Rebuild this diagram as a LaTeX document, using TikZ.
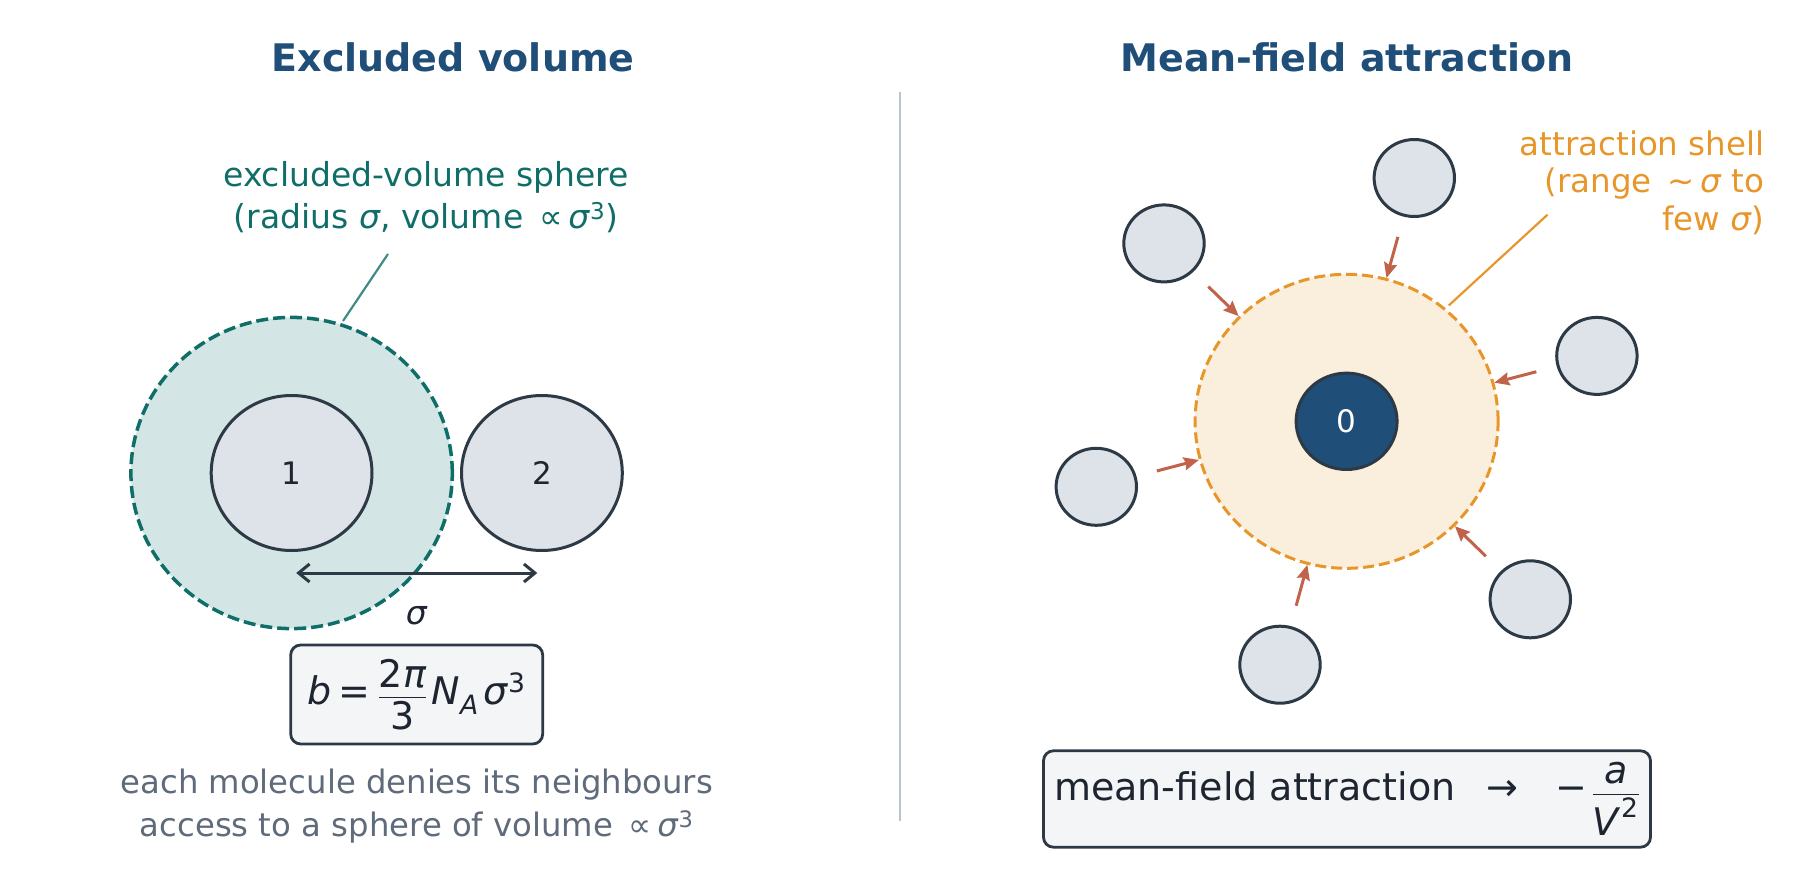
\documentclass[tikz,border=0pt]{standalone}
\usepackage{fontspec}
\setmainfont{DejaVu Sans}
\usepackage{amsmath}
\usetikzlibrary{shapes.geometric,arrows.meta,calc}
\definecolor{titleblue}{HTML}{1F4E79}
\definecolor{ink}{HTML}{2D3A46}
\definecolor{txt}{HTML}{1E2530}
\definecolor{pfill}{HTML}{DDE3E8}
\definecolor{tealc}{HTML}{0F6E68}
\definecolor{tealf}{HTML}{D3E5E5}
\definecolor{orng}{HTML}{E8962A}
\definecolor{shellf}{HTML}{FAEEDD}
\definecolor{rust}{HTML}{C0634A}
\definecolor{grayt}{HTML}{5F6B7A}
\definecolor{divc}{HTML}{B8C4CC}
\definecolor{boxf}{HTML}{F3F5F7}
\newcommand{\sig}{\textit{σ}}
\begin{document}
\begin{tikzpicture}[x=1pt,y=-1pt,
  titlestyle/.style={font=\bfseries\fontsize{38}{46}\selectfont, text=titleblue},
  lbl/.style={font=\fontsize{33}{42}\selectfont, align=center},
  particle/.style={ellipse, draw=ink, fill=pfill, line width=3pt, inner sep=0pt, text=txt, font=\fontsize{31}{36}\selectfont},
  bigp/.style={particle, minimum width=160.8pt, minimum height=155pt},
  smallp/.style={particle, minimum width=80.4pt, minimum height=77pt},
  exclsphere/.style={ellipse, draw=tealc, fill=tealf, line width=3.5pt, dash pattern=on 12pt off 5pt, inner sep=0pt, minimum width=321.4pt, minimum height=311.2pt},
  shellstyle/.style={ellipse, draw=orng, fill=shellf, line width=3pt, dash pattern=on 11pt off 5pt, inner sep=0pt, minimum width=303pt, minimum height=294pt},
  eqbox/.style={draw=ink, fill=boxf, line width=2.8pt, rounded corners=10pt, inner sep=0pt, text=txt, font=\fontsize{38}{46}\selectfont},
  attr/.style={draw=rust, line width=3pt, -{Stealth[length=15pt,width=13pt,inset=2pt]}, shorten <=21pt},
]
\useasboundingbox (0,0) rectangle (1800,878);

% titles
\node[titlestyle] (t1) at (453,57) {Excluded volume};
\node[titlestyle] (t2) at (1347,57) {Mean-field attraction};

% divider
\coordinate (d1) at (900,92);
\coordinate (d2) at (900,821);
\draw[divc, line width=2.5pt] (d1) -- (d2);

% ---------- left panel ----------
\node[exclsphere] (ex) at (291.6,473) {};
\node[bigp] (p1) at (291.6,473) {1};
\node[bigp] (p2) at (541.9,473) {2};

\coordinate (a1) at ($(p1.center)+(4.6,100)$);
\coordinate (a2) at ($(p2.center)+(-4.6,100)$);
\draw[ink, line width=3pt, {Straight Barb[length=11pt,width=18pt]}-{Straight Barb[length=11pt,width=18pt]}] (a1) -- (a2);
\node[lbl, text=txt] (sl) at (416.7,616) {\sig};

\node[lbl, text=tealc] (exl) at (426,197) {excluded-volume sphere\\(radius \sig, volume \,∝\,\sig\textsuperscript{3})};
\coordinate (tl1) at (388,254);
\coordinate (tl2) at (343,321);
\draw[tealc!80, line width=2.2pt] (tl1) -- (tl2);

\node[eqbox, minimum width=252pt, minimum height=99pt] (beq) at (416.7,694.5)
  {$\text{\textit{b}}\mathrel{\text{=}}\dfrac{\text{2\textit{π}}}{\text{3}}\,\text{\textit{N}}_{\text{\textit{A}}}\,\text{\sig}^{\text{3}}$};

\node[lbl, text=grayt, font=\fontsize{32.3}{43}\selectfont] (bt) at (416.7,806.5)
  {each molecule denies its neighbours\\access to a sphere of volume \,∝\,\sig\textsuperscript{3}};

% ---------- right panel ----------
\node[shellstyle] (shell) at (1346.6,421.3) {};
\node[particle, fill=titleblue, text=white, minimum width=101pt, minimum height=96.4pt] (p0) at (1346.6,421.3) {0};

\node[smallp] (q1) at (1164,243.4) {};
\node[smallp] (q2) at (1414.3,178) {};
\node[smallp] (q3) at (1596.9,355.9) {};
\node[smallp] (q4) at (1096.3,486.8) {};
\node[smallp] (q5) at (1530.3,599.3) {};
\node[smallp] (q6) at (1280,664.7) {};

\foreach \q in {q1,q2,q3,q4,q5,q6}
  \draw[attr] (\q) -- (shell);

\node[lbl, text=orng, align=right, anchor=east, font=\fontsize{32.5}{37.5}\selectfont] (shl) at (1768,182.5)
  {attraction shell\\(range \,∼\,\sig\ to\\few \sig)};
\coordinate (sl1) at (1547.5,214.7);
\coordinate (sl2) at (1448.8,305.4);
\draw[orng, line width=2.2pt] (sl1) -- (sl2);

\node[eqbox, minimum width=607pt, minimum height=96.4pt] (mfeq) at (1347,799)
  {mean-field attraction \enspace→\enspace\, $\text{−}\,\dfrac{\text{\textit{a}}}{\text{\textit{V}}^{\text{2}}}$};
\end{tikzpicture}
\end{document}
